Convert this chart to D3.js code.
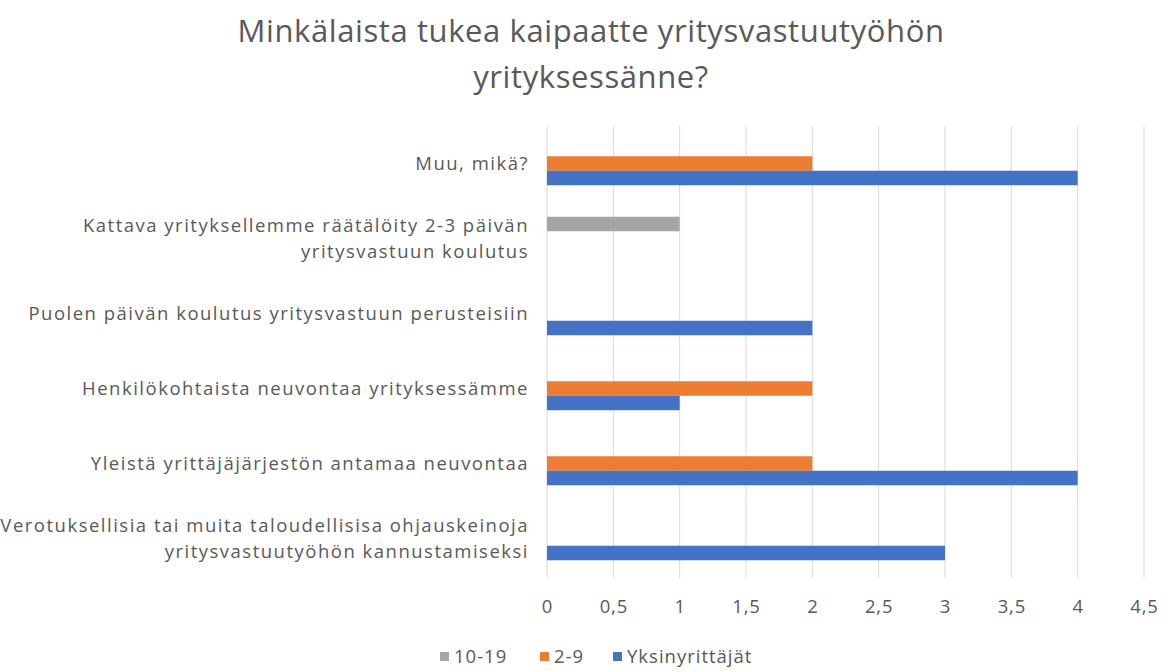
<!DOCTYPE html>
<html>
<head>
<meta charset="utf-8">
<script src="https://cdn.jsdelivr.net/npm/d3@7"></script>
<style>
  html, body { margin: 0; padding: 0; background: #fff; }
  svg { display: block; }
</style>
</head>
<body>
<svg id="chart" width="1168" height="672"></svg>
<script>
// ---- data ----
const titleLines = ["Minkälaista tukea kaipaatte yritysvastuutyöhön", "yrityksessänne?"];
const categories = [
  "Muu, mikä?",
  "Kattava yrityksellemme räätälöity 2-3 päivän\nyritysvastuun koulutus",
  "Puolen päivän koulutus yritysvastuun perusteisiin",
  "Henkilökohtaista neuvontaa yrityksessämme",
  "Yleistä yrittäjäjärjestön antamaa neuvontaa",
  "Verotuksellisia tai muita taloudellisisa ohjauskeinoja\nyritysvastuutyöhön kannustamiseksi"
];
const seriesNames = ["10-19", "2-9", "Yksinyrittäjät"];
const values1019 = [null, 1, null, null, null, null];
const values29 = [2, null, null, 2, 2, null];
const valuesYksin = [4, null, 2, 1, 4, 3];
const tickValues = [0, 0.5, 1, 1.5, 2, 2.5, 3, 3.5, 4, 4.5];
const colors = ["#a5a5a5", "#ed7d31", "#4472c4"];

const seriesValues = [values1019, values29, valuesYksin];

const svg = d3.select("#chart");
const textColor = "#595959";
const font = "'Open Sans', sans-serif";

const x = d3.scaleLinear().domain([0, 4.5]).range([547, 1144]);
const y = d3.scaleBand().domain(categories).range([126, 576]).paddingInner(0.42).paddingOuter(0.21);
const ys = d3.scaleBand().domain(seriesNames).range([0, y.bandwidth()]);

// title
svg.append("text")
  .attr("text-anchor", "middle")
  .attr("font-family", font).attr("font-size", 31)
  .attr("letter-spacing", 0.6)
  .attr("fill", textColor)
  .selectAll("tspan").data(titleLines).join("tspan")
  .attr("x", 591).attr("y", (d, i) => 42 + i * 46).text(d => d);

// gridlines
svg.append("g").selectAll("line").data(tickValues).join("line")
  .attr("x1", d => x(d)).attr("x2", d => x(d))
  .attr("y1", 126).attr("y2", 578)
  .attr("stroke", "#d9d9d9").attr("stroke-width", 1);

// bars
const flat = [];
categories.forEach((c, ci) => seriesNames.forEach((s, si) => {
  const v = seriesValues[si][ci];
  if (v != null) flat.push({ c, s, v, si });
}));
svg.append("g").selectAll("rect").data(flat).join("rect")
  .attr("x", x(0))
  .attr("y", d => y(d.c) + ys(d.s))
  .attr("width", d => x(d.v) - x(0))
  .attr("height", ys.bandwidth())
  .attr("fill", d => colors[d.si]);

// x axis tick labels
const xAxis = d3.axisBottom(x).tickValues(tickValues)
  .tickFormat(d => String(d).replace(".", ",")).tickSize(0).tickPadding(0);
const gx = svg.append("g").attr("transform", "translate(0,607)").call(xAxis);
gx.select(".domain").remove();
gx.selectAll("text").attr("font-family", font).attr("font-size", 18.5)
  .attr("letter-spacing", 0.8).attr("fill", textColor).attr("dy", "0.35em");

// y category labels
const gy = svg.append("g");
categories.forEach(c => {
  const lines = c.split("\n");
  const cy = y(c) + y.bandwidth() / 2;
  const lh = 26;
  const t = gy.append("text").attr("text-anchor", "end")
    .attr("font-family", font).attr("font-size", 18.5)
    .attr("letter-spacing", 1.5).attr("fill", textColor);
  lines.forEach((l, i) => {
    t.append("tspan").attr("x", 529)
      .attr("y", cy + (i - (lines.length - 1) / 2) * lh)
      .attr("dy", "0.35em").text(l);
  });
});

// legend
const legendItems = [
  { name: seriesNames[0], color: colors[0], x: 440 },
  { name: seriesNames[1], color: colors[1], x: 540 },
  { name: seriesNames[2], color: colors[2], x: 613 }
];
const lg = svg.append("g").selectAll("g").data(legendItems).join("g")
  .attr("transform", d => `translate(${d.x},657)`);
lg.append("rect").attr("x", 0).attr("y", -5).attr("width", 9).attr("height", 9).attr("fill", d => d.color);
lg.append("text").attr("x", 14).attr("y", 0).attr("dy", "0.35em")
  .attr("font-family", font).attr("font-size", 18.5).attr("letter-spacing", 1)
  .attr("fill", textColor).text(d => d.name);
</script>
</body>
</html>
